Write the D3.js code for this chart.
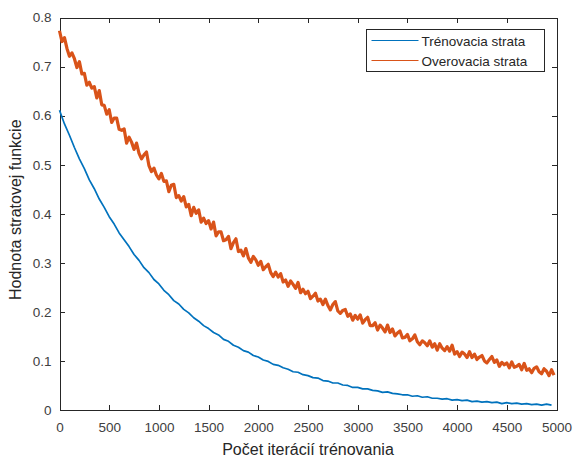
<!DOCTYPE html>
<html lang="sk">
<head>
    <meta charset="UTF-8">
    <title>Trénovacia a overovacia strata</title>
    <style>
        body {
            margin: 0;
            padding: 0;
            background-color: #fff;
            font-family: 'Liberation Sans', Arial, Helvetica, sans-serif;
        }

        .axis path,
        .axis line {
            stroke: #262626;
            stroke-width: 1;
            shape-rendering: crispEdges;
        }

        .axis text {
            font-size: 13.5px;
            fill: #404040;
            font-family: 'Liberation Sans', Arial, Helvetica, sans-serif;
        }

        .axis-title {
            font-size: 16px;
            fill: #262626;
        }

        .legend text {
            font-size: 13.5px;
            fill: #262626;
        }
    </style>
</head>
<body>
    <div id="chart"></div>

    <script src="https://d3js.org/d3.v7.min.js"></script>
    <script>
        // iteration step of the sampled points
        const orangeStep = 25;
        const blueStep = 50;

        // Trénovacia strata (sampled every 50 iterations)
        const trainLoss = [
            0.611, 0.583, 0.560, 0.535, 0.512, 0.492, 0.469, 0.451, 0.430, 0.413,
            0.394, 0.379, 0.361, 0.347, 0.333, 0.317, 0.305, 0.290, 0.280, 0.266,
            0.257, 0.244, 0.235, 0.223, 0.216, 0.205, 0.198, 0.188, 0.181, 0.172,
            0.166, 0.158, 0.153, 0.144, 0.140, 0.132, 0.128, 0.121, 0.118, 0.111,
            0.108, 0.102, 0.099, 0.093, 0.091, 0.086, 0.083, 0.078, 0.077, 0.072,
            0.070, 0.066, 0.065, 0.060, 0.059, 0.055, 0.055, 0.051, 0.050, 0.046,
            0.046, 0.043, 0.043, 0.040, 0.039, 0.036, 0.037, 0.034, 0.033, 0.031,
            0.031, 0.028, 0.029, 0.026, 0.027, 0.024, 0.024, 0.022, 0.023, 0.020,
            0.021, 0.019, 0.020, 0.017, 0.018, 0.016, 0.017, 0.015, 0.016, 0.013,
            0.015, 0.013, 0.014, 0.012, 0.013, 0.011, 0.012, 0.010, 0.012, 0.010
        ];

        // Overovacia strata (sampled every 25 iterations)
        const valLoss = [
            0.773, 0.751, 0.759, 0.737, 0.721, 0.728, 0.716, 0.698, 0.710, 0.685,
            0.686, 0.662, 0.668, 0.656, 0.659, 0.636, 0.651, 0.622, 0.621, 0.603,
            0.612, 0.586, 0.595, 0.595, 0.572, 0.570, 0.573, 0.544, 0.556, 0.546,
            0.531, 0.544, 0.523, 0.512, 0.520, 0.526, 0.498, 0.486, 0.493, 0.479,
            0.471, 0.482, 0.466, 0.467, 0.445, 0.458, 0.460, 0.433, 0.437, 0.426,
            0.435, 0.414, 0.419, 0.396, 0.413, 0.401, 0.408, 0.383, 0.391, 0.380,
            0.386, 0.369, 0.383, 0.355, 0.363, 0.363, 0.345, 0.347, 0.354, 0.329,
            0.341, 0.349, 0.323, 0.326, 0.314, 0.329, 0.310, 0.301, 0.313, 0.306,
            0.295, 0.303, 0.286, 0.292, 0.297, 0.280, 0.272, 0.281, 0.271, 0.278,
            0.261, 0.265, 0.252, 0.263, 0.256, 0.248, 0.260, 0.239, 0.246, 0.237,
            0.242, 0.227, 0.232, 0.238, 0.222, 0.226, 0.215, 0.226, 0.213, 0.204,
            0.215, 0.221, 0.202, 0.197, 0.203, 0.205, 0.191, 0.196, 0.183, 0.193,
            0.185, 0.194, 0.177, 0.184, 0.189, 0.172, 0.172, 0.178, 0.163, 0.173,
            0.167, 0.159, 0.173, 0.158, 0.165, 0.151, 0.157, 0.161, 0.147, 0.148,
            0.154, 0.141, 0.145, 0.153, 0.139, 0.133, 0.141, 0.137, 0.131, 0.141,
            0.128, 0.135, 0.122, 0.135, 0.126, 0.121, 0.129, 0.120, 0.132, 0.114,
            0.119, 0.109, 0.118, 0.114, 0.107, 0.119, 0.107, 0.114, 0.103, 0.108,
            0.111, 0.100, 0.096, 0.103, 0.109, 0.097, 0.102, 0.089, 0.097, 0.092,
            0.096, 0.086, 0.098, 0.087, 0.089, 0.093, 0.082, 0.095, 0.081, 0.084,
            0.076, 0.085, 0.088, 0.078, 0.074, 0.084, 0.079, 0.070, 0.082, 0.071
        ];

        const xTicks = [0, 500, 1000, 1500, 2000, 2500, 3000, 3500, 4000, 4500, 5000];
        const yTicks = [0, 0.1, 0.2, 0.3, 0.4, 0.5, 0.6, 0.7, 0.8];

        const seriesNames = ["Trénovacia strata", "Overovacia strata"];
        const seriesColors = ["#0072BD", "#D95319"];

        const width = 578;
        const height = 458;
        const margin = { top: 17.5, right: 21.5, bottom: 48, left: 59.5 };
        const innerW = width - margin.left - margin.right;
        const innerH = height - margin.top - margin.bottom;

        const svg = d3.select("#chart").append("svg")
            .attr("width", width)
            .attr("height", height)
            .style("background", "#fff");

        const g = svg.append("g")
            .attr("transform", `translate(${margin.left},${margin.top})`);

        const x = d3.scaleLinear().domain([0, 5000]).range([0, innerW]);
        const y = d3.scaleLinear().domain([0, 0.8]).range([innerH, 0]);

        const fmtY = d => d === 0 ? "0" : d3.format(".1f")(d);

        // bottom & left axes with labels, ticks pointing inward
        g.append("g")
            .attr("class", "axis")
            .attr("transform", `translate(0,${innerH})`)
            .call(d3.axisBottom(x).tickValues(xTicks).tickFormat(d3.format("d"))
                .tickSizeInner(-5).tickSizeOuter(0).tickPadding(12));

        g.append("g")
            .attr("class", "axis")
            .call(d3.axisLeft(y).tickValues(yTicks).tickFormat(fmtY).tickSizeInner(-5).tickSizeOuter(0).tickPadding(8));

        // top & right axes (box), ticks only
        g.append("g")
            .attr("class", "axis")
            .call(d3.axisTop(x).tickValues(xTicks).tickFormat("").tickSizeInner(-5).tickSizeOuter(0));

        g.append("g")
            .attr("class", "axis")
            .attr("transform", `translate(${innerW},0)`)
            .call(d3.axisRight(y).tickValues(yTicks).tickFormat("").tickSizeInner(-5).tickSizeOuter(0));

        const line = step => d3.line()
            .x((d, i) => x(i * step))
            .y(d => y(d));

        // noisy validation loss: a wider stroke gives the dense band look
        g.append("path")
            .datum(valLoss)
            .attr("fill", "none")
            .attr("stroke", seriesColors[1])
            .attr("stroke-width", 3.2)
            .attr("stroke-linejoin", "round")
            .attr("d", line(orangeStep));

        g.append("path")
            .datum(trainLoss)
            .attr("fill", "none")
            .attr("stroke", seriesColors[0])
            .attr("stroke-width", 1.7)
            .attr("stroke-linejoin", "round")
            .attr("d", line(blueStep));

        // axis titles
        svg.append("text")
            .attr("class", "axis-title")
            .attr("x", margin.left + innerW / 2)
            .attr("y", 455)
            .attr("text-anchor", "middle")
            .text("Počet iterácií trénovania");

        svg.append("text")
            .attr("class", "axis-title")
            .attr("transform", `translate(21,${margin.top + innerH / 2 - 4}) rotate(-90)`)
            .attr("text-anchor", "middle")
            .text("Hodnota stratovej funkcie");

        // legend
        const legend = svg.append("g")
            .attr("class", "legend")
            .attr("transform", "translate(366.5,29.5)");

        legend.append("rect")
            .attr("width", 178)
            .attr("height", 42)
            .attr("fill", "#fff")
            .attr("stroke", "#262626")
            .attr("stroke-width", 1);

        seriesNames.forEach((name, i) => {
            const ly = 11 + i * 20;
            legend.append("line")
                .attr("x1", 5).attr("x2", 52)
                .attr("y1", ly).attr("y2", ly)
                .attr("stroke", seriesColors[i])
                .attr("stroke-width", 1.2);
            legend.append("text")
                .attr("x", 55)
                .attr("y", ly + 5)
                .text(name);
        });
    </script>
</body>
</html>
